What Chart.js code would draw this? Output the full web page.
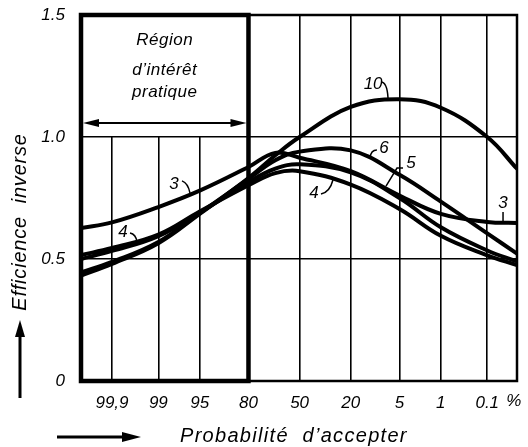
<!DOCTYPE html>
<html>
<head>
<meta charset="utf-8">
<script src="https://cdn.jsdelivr.net/npm/chart.js@4/dist/chart.umd.min.js"></script>
<style>
html,body{margin:0;padding:0;background:#fff;}
#wrap{width:528px;height:447px;}
</style>
</head>
<body>
<div id="wrap"><canvas id="c" width="528" height="447"></canvas></div>
<script>
// ---- data (x in probit units: -z of acceptance probability) ----
const probitPos = [-3.6, -3.09, -2.326, -1.645, -0.842, -0.4, 0, 0.842, 1.645, 2.326, 3.09, 3.58];
const tickPos = [-3.09, -2.326, -1.645, -0.842, 0, 0.842, 1.645, 2.326, 3.09];
const tickLabels = ['99,9', '99', '95', '80', '50', '20', '5', '1', '0.1'];
const yTicks = [0, 0.5, 1.0, 1.5];
const yTickLabels = ['0', '0.5', '1.0', '1.5'];
const seriesNames = ['3', '4', '5', '6', '10'];
const curve3  = [0.627, 0.650, 0.713, 0.780, 0.877, 0.935, 0.915, 0.860, 0.760, 0.685, 0.652, 0.648];
const curve4  = [0.516, 0.545, 0.600, 0.695, 0.802, 0.852, 0.860, 0.805, 0.705, 0.595, 0.515, 0.475];
const curve5  = [0.500, 0.533, 0.594, 0.690, 0.815, 0.870, 0.888, 0.855, 0.750, 0.630, 0.535, 0.490];
const curve6  = [0.445, 0.488, 0.570, 0.688, 0.828, 0.905, 0.940, 0.945, 0.845, 0.735, 0.605, 0.522];
const curve10 = [0.432, 0.480, 0.565, 0.685, 0.832, 0.925, 1.000, 1.123, 1.155, 1.120, 1.000, 0.870];
const allCurves = [curve3, curve4, curve5, curve6, curve10];
const regionEnd = -0.842;   // 80 % line bounding the "region of practical interest"
const xMin = -3.6, xMax = 3.58, yMin = 0, yMax = 1.5;

// annotation anchors (data units)
const curveLabels = [
  {t:'3',  u:-2.07, v:0.807, lead:[[-1.937,0.820],[-1.838,0.811],[-1.805,0.770]]},
  {t:'4',  u:-2.91, v:0.611, lead:[[-2.793,0.607],[-2.694,0.602],[-2.678,0.570]]},
  {t:'10', u:1.21,  v:1.217, lead:[[1.34,1.225],[1.44,1.225],[1.456,1.160]]},
  {t:'6',  u:1.39,  v:0.955, lead:[[1.273,0.947],[1.175,0.947],[1.159,0.915]]},
  {t:'5',  u:1.835, v:0.893, lead:[[1.703,0.873],[1.604,0.873],[1.423,0.799]], straight:true},
  {t:'3',  u:3.35,  v:0.730, lead:[[3.35,0.693],[3.35,0.675],[3.35,0.652]]},
  {t:'4',  u:0.237, v:0.770, lead:[[0.352,0.766],[0.50,0.775],[0.55,0.825]]}
];

const FONT = '"Liberation Sans", Arial, sans-serif';

const datasets = allCurves.map((c, i) => ({
  label: seriesNames[i],
  data: probitPos.map((p, j) => ({x: p, y: c[j]})),
  borderColor: '#000',
  borderWidth: 4,
  pointRadius: 0,
  fill: false,
  tension: 0.4,
  borderCapStyle: 'round'
}));

const annPlugin = {
  id: 'ann',
  beforeDatasetsDraw(chart) {
    const {ctx, chartArea: a, scales: {x, y}} = chart;
    const xr = x.getPixelForValue(regionEnd);
    const y1 = y.getPixelForValue(1.0);
    ctx.save();
    ctx.fillStyle = '#fff';
    ctx.fillRect(a.left + 1, a.top + 1, xr - a.left - 2, y1 - a.top - 2);
    ctx.fillStyle = '#000';
    ctx.font = 'italic 17px ' + FONT;
    ctx.textAlign = 'center';
    ctx.textBaseline = 'alphabetic';
    ctx.letterSpacing = '0.5px';
    const cx = (a.left + xr) / 2;
    ctx.fillText('Région', cx, y.getPixelForValue(1.377));
    ctx.fillText('d’intérêt', cx, y.getPixelForValue(1.254));
    ctx.fillText('pratique', cx, y.getPixelForValue(1.162));
    ctx.letterSpacing = '0px';
    const ya = y.getPixelForValue(1.057);
    const xl = a.left + 2, xe = xr - 2;
    ctx.strokeStyle = '#000'; ctx.lineWidth = 2;
    ctx.beginPath(); ctx.moveTo(xl + 10, ya); ctx.lineTo(xe - 10, ya); ctx.stroke();
    ctx.beginPath(); ctx.moveTo(xl, ya); ctx.lineTo(xl + 16, ya - 4); ctx.lineTo(xl + 16, ya + 4); ctx.closePath(); ctx.fill();
    ctx.beginPath(); ctx.moveTo(xe, ya); ctx.lineTo(xe - 16, ya - 4); ctx.lineTo(xe - 16, ya + 4); ctx.closePath(); ctx.fill();
    ctx.restore();
  },
  afterDatasetsDraw(chart) {
    const {ctx, chartArea: a, scales: {x, y}} = chart;
    const xr = x.getPixelForValue(regionEnd);
    ctx.save();
    ctx.strokeStyle = '#000';
    ctx.lineWidth = 2.5;
    ctx.strokeRect(a.left, a.top, a.right - a.left, a.bottom - a.top);
    ctx.lineWidth = 4.5;
    ctx.strokeRect(a.left, a.top, xr - a.left, a.bottom - a.top);
    ctx.fillStyle = '#000';
    ctx.font = 'italic 17px ' + FONT;
    ctx.textAlign = 'center';
    ctx.textBaseline = 'middle';
    ctx.lineWidth = 1.5;
    curveLabels.forEach(l => {
      ctx.fillText(l.t, x.getPixelForValue(l.u), y.getPixelForValue(l.v));
      const p = l.lead.map(q => [x.getPixelForValue(q[0]), y.getPixelForValue(q[1])]);
      ctx.beginPath();
      ctx.moveTo(p[0][0], p[0][1]);
      if (l.straight) { ctx.lineTo(p[1][0], p[1][1]); ctx.lineTo(p[2][0], p[2][1]); }
      else ctx.quadraticCurveTo(p[1][0], p[1][1], p[2][0], p[2][1]);
      ctx.stroke();
    });
    ctx.font = 'italic 17px ' + FONT;
    ctx.textAlign = 'left';
    ctx.fillText('%', x.getPixelForValue(tickPos[tickPos.length - 1]) + 19, a.bottom + 20);
    ctx.save();
    ctx.translate(20, 222);
    ctx.rotate(-Math.PI / 2);
    ctx.font = 'italic 20px ' + FONT;
    ctx.letterSpacing = '0.8px';
    ctx.textAlign = 'center';
    ctx.textBaseline = 'middle';
    ctx.fillText('Efficience  inverse', 0, 0);
    ctx.restore();
    ctx.lineWidth = 3;
    ctx.beginPath(); ctx.moveTo(20, 398); ctx.lineTo(20, 334); ctx.stroke();
    ctx.beginPath(); ctx.moveTo(20, 320); ctx.lineTo(15, 337); ctx.lineTo(25, 337); ctx.closePath(); ctx.fill();
    ctx.beginPath(); ctx.moveTo(57, 437); ctx.lineTo(124, 437); ctx.stroke();
    ctx.beginPath(); ctx.moveTo(141, 437); ctx.lineTo(122, 432); ctx.lineTo(122, 442); ctx.closePath(); ctx.fill();
    ctx.font = 'italic 20px ' + FONT;
    ctx.letterSpacing = '1.3px';
    ctx.textAlign = 'left';
    ctx.textBaseline = 'alphabetic';
    ctx.fillText('Probabilité  d’accepter', 180, 442);
    ctx.restore();
  }
};

new Chart(document.getElementById('c'), {
  type: 'line',
  data: {datasets},
  plugins: [annPlugin],
  options: {
    responsive: false,
    animation: false,
    devicePixelRatio: 1,
    layout: {padding: {top: 15, right: 11, left: 0, bottom: 0}},
    plugins: {legend: {display: false}, tooltip: {enabled: false}},
    scales: {
      x: {
        type: 'linear', min: xMin, max: xMax,
        afterBuildTicks: s => { s.ticks = tickPos.map(v => ({value: v})); },
        afterFit: s => { s.height = 66; s.paddingLeft = 0; s.paddingRight = 0; },
        ticks: {
          callback: (v, i) => tickLabels[i],
          autoSkip: false, maxRotation: 0, padding: 12,
          color: '#000', font: {family: FONT, size: 17, style: 'italic'}
        },
        grid: {color: '#000', lineWidth: 1.6, drawTicks: false},
        border: {display: false}
      },
      y: {
        min: yMin, max: yMax,
        afterBuildTicks: s => { s.ticks = yTicks.map(v => ({value: v})); },
        afterFit: s => { s.width = 81; s.paddingTop = 0; s.paddingBottom = 0; },
        ticks: {
          callback: (v, i) => yTickLabels[i],
          padding: 16,
          color: '#000', font: {family: FONT, size: 17, style: 'italic'}
        },
        grid: {color: '#000', lineWidth: 1.6, drawTicks: false},
        border: {display: false}
      }
    }
  }
});
</script>
</body>
</html>
